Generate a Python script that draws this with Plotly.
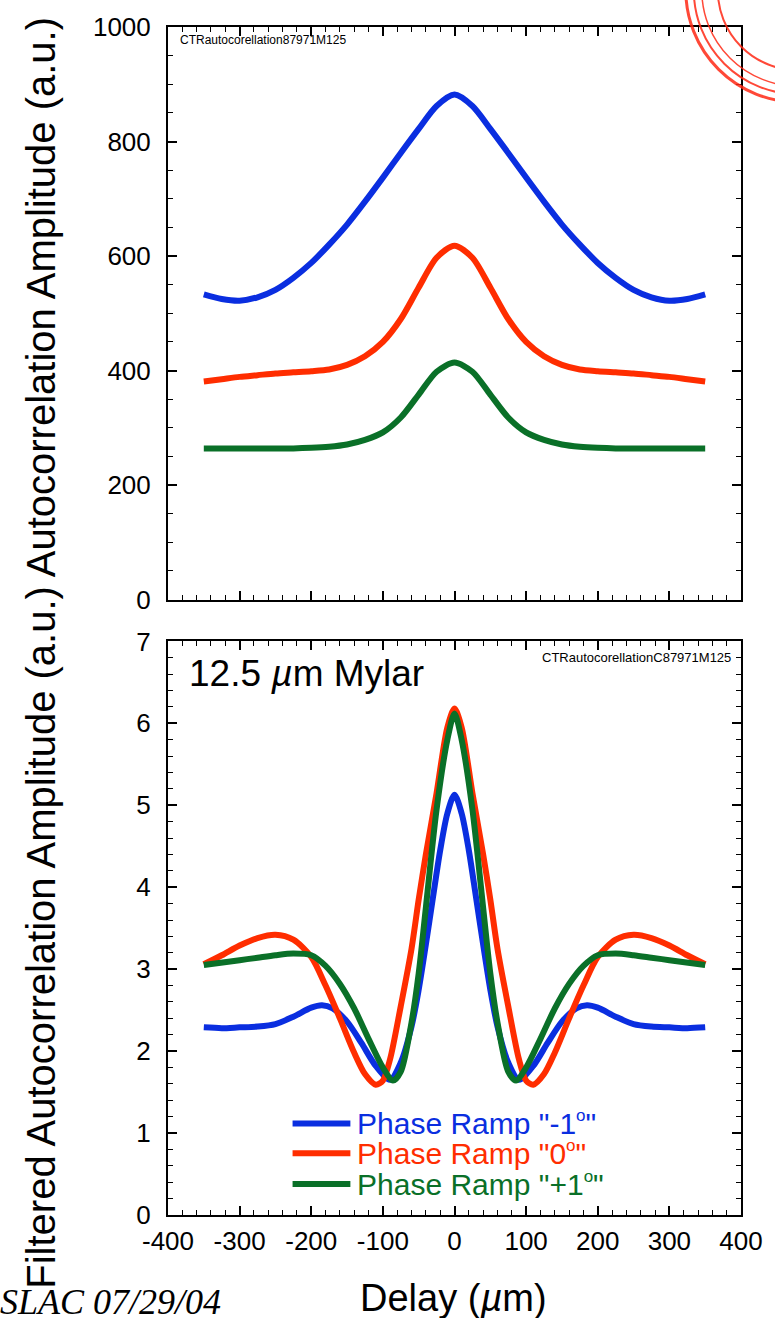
import plotly.graph_objects as go

# ---------------- data: top panel (raw autocorrelation) ----------------
top_x = [-350, -325, -300, -275, -250, -225, -200, -175, -150, -125, -100, -75, -50, -25, 0,
         25, 50, 75, 100, 125, 150, 175, 200, 225, 250, 275, 300, 325, 350]
top_blue = [533, 525, 522, 528, 541, 562, 588, 620, 655, 695, 737, 780, 822, 862, 882,
            862, 822, 780, 737, 695, 655, 620, 588, 562, 541, 528, 522, 525, 533]
top_red = [381, 385, 389, 392, 395, 397, 399, 402, 410, 425, 450, 490, 545, 597, 618,
           597, 545, 490, 450, 425, 410, 402, 399, 397, 395, 392, 389, 385, 381]
top_green = [264, 264, 264, 264, 264, 264, 265, 267, 271, 279, 292, 318, 358, 398, 414,
             398, 358, 318, 292, 279, 271, 267, 265, 264, 264, 264, 264, 264, 264]

# ---------------- data: bottom panel (filtered autocorrelation) ----------------
blue_x = [-350, -325, -300, -275, -250, -225, -200, -185, -170, -150, -130, -110, -90, -75, -60,
          -50, -40, -30, -20, -10, 0, 10, 20, 30, 40, 50, 60, 75, 90, 110, 130, 150, 170, 185,
          200, 225, 250, 275, 300, 325, 350]
blue_y = [2.29, 2.28, 2.29, 2.30, 2.33, 2.42, 2.53, 2.56, 2.52, 2.36, 2.10, 1.82, 1.65, 1.86, 2.30,
          2.75, 3.30, 3.88, 4.45, 4.90, 5.13, 4.90, 4.45, 3.88, 3.30, 2.75, 2.30, 1.86, 1.65, 1.82,
          2.10, 2.36, 2.52, 2.56, 2.53, 2.42, 2.33, 2.30, 2.29, 2.28, 2.29]

red_x = [-350, -325, -300, -275, -250, -225, -200, -180, -160, -140, -125, -110, -100, -90, -75,
         -60, -50, -40, -25, -10, 0, 10, 25, 40, 50, 60, 75, 90, 100, 110, 125, 140, 160, 180,
         200, 225, 250, 275, 300, 325, 350]
red_y = [3.06, 3.17, 3.29, 3.38, 3.42, 3.36, 3.15, 2.80, 2.40, 1.98, 1.72, 1.59, 1.64, 1.90, 2.55,
         3.25, 3.85, 4.40, 5.15, 5.95, 6.18, 5.95, 5.15, 4.40, 3.85, 3.25, 2.55, 1.90, 1.64, 1.59,
         1.72, 1.98, 2.40, 2.80, 3.15, 3.36, 3.42, 3.38, 3.29, 3.17, 3.06]

green_x = [-350, -300, -275, -250, -225, -200, -180, -160, -140, -120, -100, -86, -75, -60, -50,
           -40, -25, -10, 0, 10, 25, 40, 50, 60, 75, 86, 100, 120, 140, 160, 180, 200, 225, 250,
           275, 300, 350]
green_y = [3.05, 3.11, 3.14, 3.17, 3.19, 3.17, 3.04, 2.82, 2.52, 2.15, 1.80, 1.64, 1.75, 2.35, 2.95,
           3.75, 4.95, 5.80, 6.12, 5.80, 4.95, 3.75, 2.95, 2.35, 1.75, 1.64, 1.80, 2.15, 2.52, 2.82,
           3.04, 3.17, 3.19, 3.17, 3.14, 3.11, 3.05]

DEG = '<sup><span style="font-size:17px">o</span></sup>'
series_names = ['Phase Ramp "-1' + DEG + '"', 'Phase Ramp "0' + DEG + '"', 'Phase Ramp "+1' + DEG + '"']
colors = ['#0a2ee0', '#ff2d00', '#0a7028']

x_ticks = [-400, -300, -200, -100, 0, 100, 200, 300, 400]
x_tick_text = ['-400', '-300', '-200', '-100', '0', '100', '200', '300', '400']
top_y_ticks = [0, 200, 400, 600, 800, 1000]
bot_y_ticks = [0, 1, 2, 3, 4, 5, 6, 7]

FONT = 'Liberation Sans, Arial, Helvetica, sans-serif'
LW = 6

fig = go.Figure()

for yv, c in zip([top_blue, top_red, top_green], colors):
    fig.add_trace(go.Scatter(x=top_x, y=yv, mode='lines', xaxis='x', yaxis='y',
                             line=dict(color=c, width=LW, shape='spline', smoothing=0.8),
                             showlegend=False, hoverinfo='skip'))

for xv, yv, c, n in zip([blue_x, red_x, green_x], [blue_y, red_y, green_y], colors, series_names):
    fig.add_trace(go.Scatter(x=xv, y=yv, mode='lines', xaxis='x2', yaxis='y2', name=n,
                             line=dict(color=c, width=LW, shape='spline', smoothing=0.8),
                             showlegend=False, hoverinfo='skip'))

axis_common = dict(showline=True, linecolor='black', linewidth=2, mirror='allticks',
                   ticks='inside', ticklen=9, tickwidth=1.5, tickcolor='black',
                   showgrid=False, zeroline=False,
                   tickfont=dict(family=FONT, size=26, color='black'))

def minor(dt):
    return dict(dtick=dt, ticks='inside', ticklen=5, tickwidth=1.2,
                tickcolor='black', showgrid=False)

fig.update_layout(
    width=775, height=1318,
    margin=dict(l=168, r=32, t=22, b=103),
    paper_bgcolor='white', plot_bgcolor='white',
    xaxis=dict(domain=[0, 1], range=[-400, 400], tickvals=x_ticks, ticktext=x_tick_text,
               showticklabels=False, anchor='y', minor=minor(20), **axis_common),
    yaxis=dict(domain=[0.518, 1], range=[0, 1000], tickvals=top_y_ticks, anchor='x',
               ticklabelstandoff=10, minor=minor(50), **axis_common),
    xaxis2=dict(domain=[0, 1], range=[-400, 400], tickvals=x_ticks, ticktext=x_tick_text,
                anchor='y2', ticklabelstandoff=2, minor=minor(20), **axis_common),
    yaxis2=dict(domain=[0, 0.4828], range=[0, 7], tickvals=bot_y_ticks, anchor='x2',
                ticklabelstandoff=10, minor=minor(0.2), **axis_common),
)

annotations = [
    dict(text='Filtered Autocorrelation Amplitude (a.u.) Autocorrelation Amplitude (a.u.)',
         xref='paper', yref='paper', x=-0.221, y=0.4736, textangle=-90, showarrow=False,
         xanchor='center', yanchor='middle', font=dict(family=FONT, size=40, color='black')),
    dict(text='Delay (<i>µ</i>m)', xref='paper', yref='paper', x=0.499, y=-0.0696,
         showarrow=False, xanchor='center', yanchor='middle',
         font=dict(family=FONT, size=38, color='black')),
    dict(text='<i>SLAC 07/29/04</i>', xref='paper', yref='paper', x=-0.296, y=-0.073,
         showarrow=False, xanchor='left', yanchor='middle',
         font=dict(family='Liberation Serif, Times New Roman, serif', size=36, color='black')),
    dict(text='CTRautocorellation87971M125', xref='paper', yref='paper', x=0.017, y=0.989,
         showarrow=False, xanchor='left', yanchor='middle',
         font=dict(family=FONT, size=12, color='black')),
    dict(text='CTRautocorellationC87971M125', xref='paper', yref='paper', x=0.986, y=0.4694,
         showarrow=False, xanchor='right', yanchor='middle',
         font=dict(family=FONT, size=13, color='black')),
    dict(text='12.5 <i>µ</i>m Mylar', xref='paper', yref='paper', x=0.033, y=0.456,
         showarrow=False, xanchor='left', yanchor='middle',
         font=dict(family=FONT, size=37, color='black')),
]

# manual legend (key lines + coloured labels)
shapes = []
leg_y = [0.0771, 0.052, 0.026]
for ly, c, n in zip(leg_y, colors, series_names):
    shapes.append(dict(type='line', xref='paper', yref='paper', x0=0.2174, x1=0.3183,
                       y0=ly, y1=ly, line=dict(color=c, width=LW)))
    annotations.append(dict(text=n, xref='paper', yref='paper', x=0.326, y=ly,
                            showarrow=False, xanchor='left', yanchor='middle',
                            font=dict(family=FONT, size=30, color=c)))

# faint seal decoration in the top-right corner
for r, w in [(112, 3), (104, 2), (96, 1.5), (80, 2)]:
    shapes.append(dict(type='circle', xref='paper', yref='paper', xsizemode='pixel',
                       ysizemode='pixel', xanchor=(800 - 168) / 575, yanchor=(1215 + 15) / 1193,
                       x0=-r, x1=r, y0=-r, y1=r, line=dict(color='rgba(255,40,20,0.85)', width=w)))

fig.update_layout(annotations=annotations, shapes=shapes)

fig.write_html('out.html')
